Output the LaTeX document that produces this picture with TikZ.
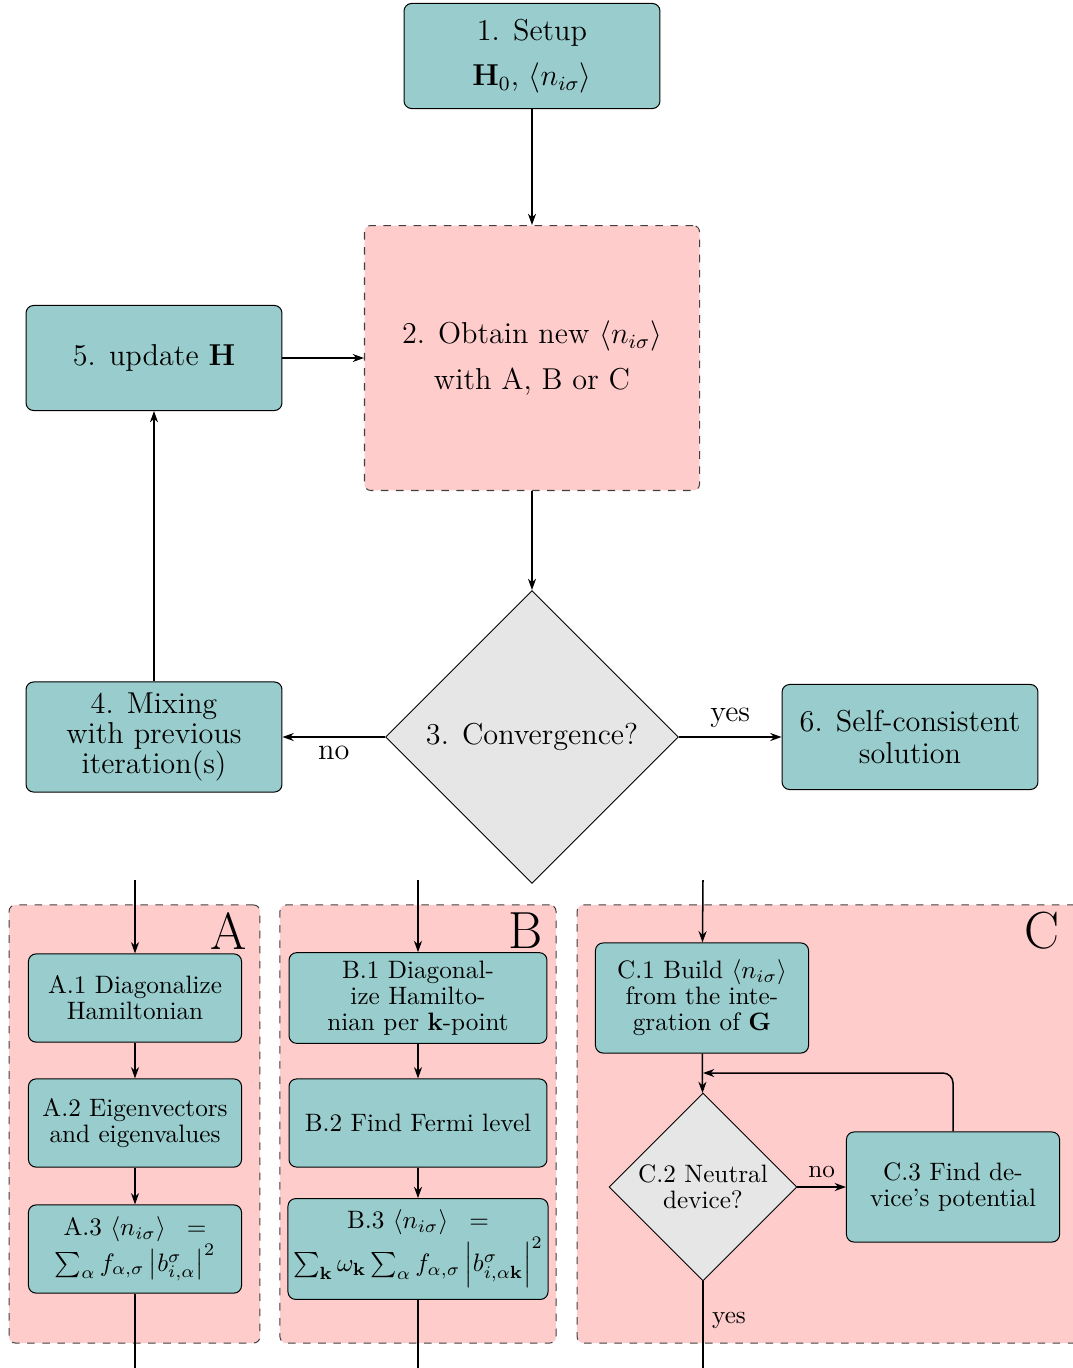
\documentclass[tikz,border=0pt]{standalone}
\usetikzlibrary{shapes.geometric,arrows.meta}
\definecolor{tealbox}{HTML}{99CCCC}
\definecolor{pinkbox}{HTML}{FFCCCC}
\definecolor{greybox}{HTML}{E6E6E6}
\begin{document}
\begin{tikzpicture}[x=0.397pt,y=-0.397pt,
  proc/.style={draw, fill=tealbox, rounded corners=3pt, align=center, inner sep=2pt},
  bigbox/.style={proc, font=\large, minimum width=101.6pt, minimum height=41.7pt},
  smallbox/.style={proc, minimum width=84.6pt, minimum height=35pt},
  widebox/.style={proc, minimum width=102.4pt, minimum height=35pt},
  panel/.style={draw=black!75, dashed, fill=pinkbox, rounded corners=2.5pt, inner sep=0pt},
  dec/.style={diamond, draw, fill=greybox, aspect=1, inner sep=0pt, align=center},
  arr/.style={-{Stealth[length=4.5pt,width=3.2pt]}, line width=0.6pt},
  ln/.style={line width=0.6pt},
  lab/.style={font=\large},
  slab/.style={font=\normalsize},
  panellab/.style={font=\huge, inner sep=0pt}
]
\useasboundingbox (0,0) rectangle (1073,1368);

% top part
\node[bigbox] (n1) at (532,56) {1. Setup\\[4pt]$\mathbf{H}_0$, $\langle n_{i\sigma}\rangle$};
\node[panel, font=\large, align=center, minimum width=133pt, minimum height=105.2pt] (n2) at (532,358)
  {2. Obtain new $\langle n_{i\sigma}\rangle$\\[4pt]with A, B or C};
\node[bigbox] (n5) at (154,358) {5. update $\mathbf{H}$};
\node[dec, font=\large, minimum size=116.3pt] (n3) at (532,737) {3. Convergence?};
\node[bigbox, minimum height=43.7pt] (n4) at (154,737) {4. Mixing\\[-2pt]with previous\\[-2pt]iteration(s)};
\node[bigbox] (n6) at (910,737) {6. Self-consistent\\[-1.5pt]solution};

\draw[arr] (n1) -- (n2);
\draw[arr] (n5) -- (n2);
\draw[arr] (n2) -- (n3);
\draw[arr] (n3) -- node[lab, below, pos=0.5] {no} (n4);
\draw[arr] (n3) -- node[lab, above, pos=0.5] {yes} (n6);
\draw[arr] (n4) -- (n5);

% panels
\node[panel, minimum width=99.6pt, minimum height=173.9pt] (pA) at (134.5,1124) {};
\node[panel, minimum width=109.6pt, minimum height=173.9pt] (pB) at (418,1124) {};
\node[panel, minimum width=200pt, minimum height=173.9pt] (pC) at (829,1124) {};
\node[panellab] (lA) at (229,931) {A};
\node[panellab] (lB) at (526,931) {B};
\node[panellab] (lC) at (1042,931) {C};

% panel A
\node[smallbox] (A1) at (135,998) {A.1 Diagonalize\\[-1.7pt]Hamiltonian};
\node[smallbox] (A2) at (135,1123) {A.2 Eigenvectors\\[-1.7pt]and eigenvalues};
\node[smallbox] (A3) at (135,1249) {A.3 $\langle n_{i\sigma}\rangle\;\;=$\\$\sum_\alpha f_{\alpha,\sigma}\left|b^\sigma_{i,\alpha}\right|^2$};
\coordinate (inA) at (135,880);
\coordinate (outA) at (135,1368);
\draw[arr] (inA) -- (A1);
\draw[arr] (A1) -- (A2);
\draw[arr] (A2) -- (A3);
\draw[ln] (A3) -- (outA);

% panel B
\node[widebox, minimum height=36pt] (B1) at (418,998) {B.1 Diagonal-\\[-1.7pt]ize Hamilto-\\[-1.7pt]nian per $\mathbf{k}$-point};
\node[widebox] (B2) at (418,1123) {B.2 Find Fermi level};
\node[widebox, minimum height=40pt] (B3) at (418,1249) {B.3 $\langle n_{i\sigma}\rangle\;\;=$\\$\sum_{\mathbf{k}}\omega_{\mathbf{k}}\sum_\alpha f_{\alpha,\sigma}\left|b^\sigma_{i,\alpha\mathbf{k}}\right|^2$};
\coordinate (inB) at (418,880);
\coordinate (outB) at (418,1368);
\draw[arr] (inB) -- (B1);
\draw[arr] (B1) -- (B2);
\draw[arr] (B2) -- (B3);
\draw[ln] (B3) -- (outB);

% panel C
\node[smallbox, minimum height=43.7pt] (C1) at (702,998) {C.1 Build $\langle n_{i\sigma}\rangle$\\[-1.7pt]from the inte-\\[-1.7pt]gration of $\mathbf{G}$};
\node[dec, minimum size=74.6pt] (C2) at (703,1187) {C.2 Neutral\\[-1.7pt]device?};
\node[smallbox, minimum height=43.7pt] (C3) at (953,1187) {C.3 Find de-\\[-1.7pt]vice's potential};
\coordinate (inC) at (703,880);
\coordinate (loopC) at (703,1073);
\coordinate (outC) at (703,1368);
\draw[arr] (inC) -- (C1);
\draw[arr] (C1) -- (C2);
\draw[arr] (C2) -- node[slab, above, pos=0.5] {no} (C3);
\draw[arr, rounded corners=4pt] (C3.north) |- (loopC);
\draw[ln] (C2) -- node[slab, right, pos=0.45] {yes} (outC);
\end{tikzpicture}
\end{document}
